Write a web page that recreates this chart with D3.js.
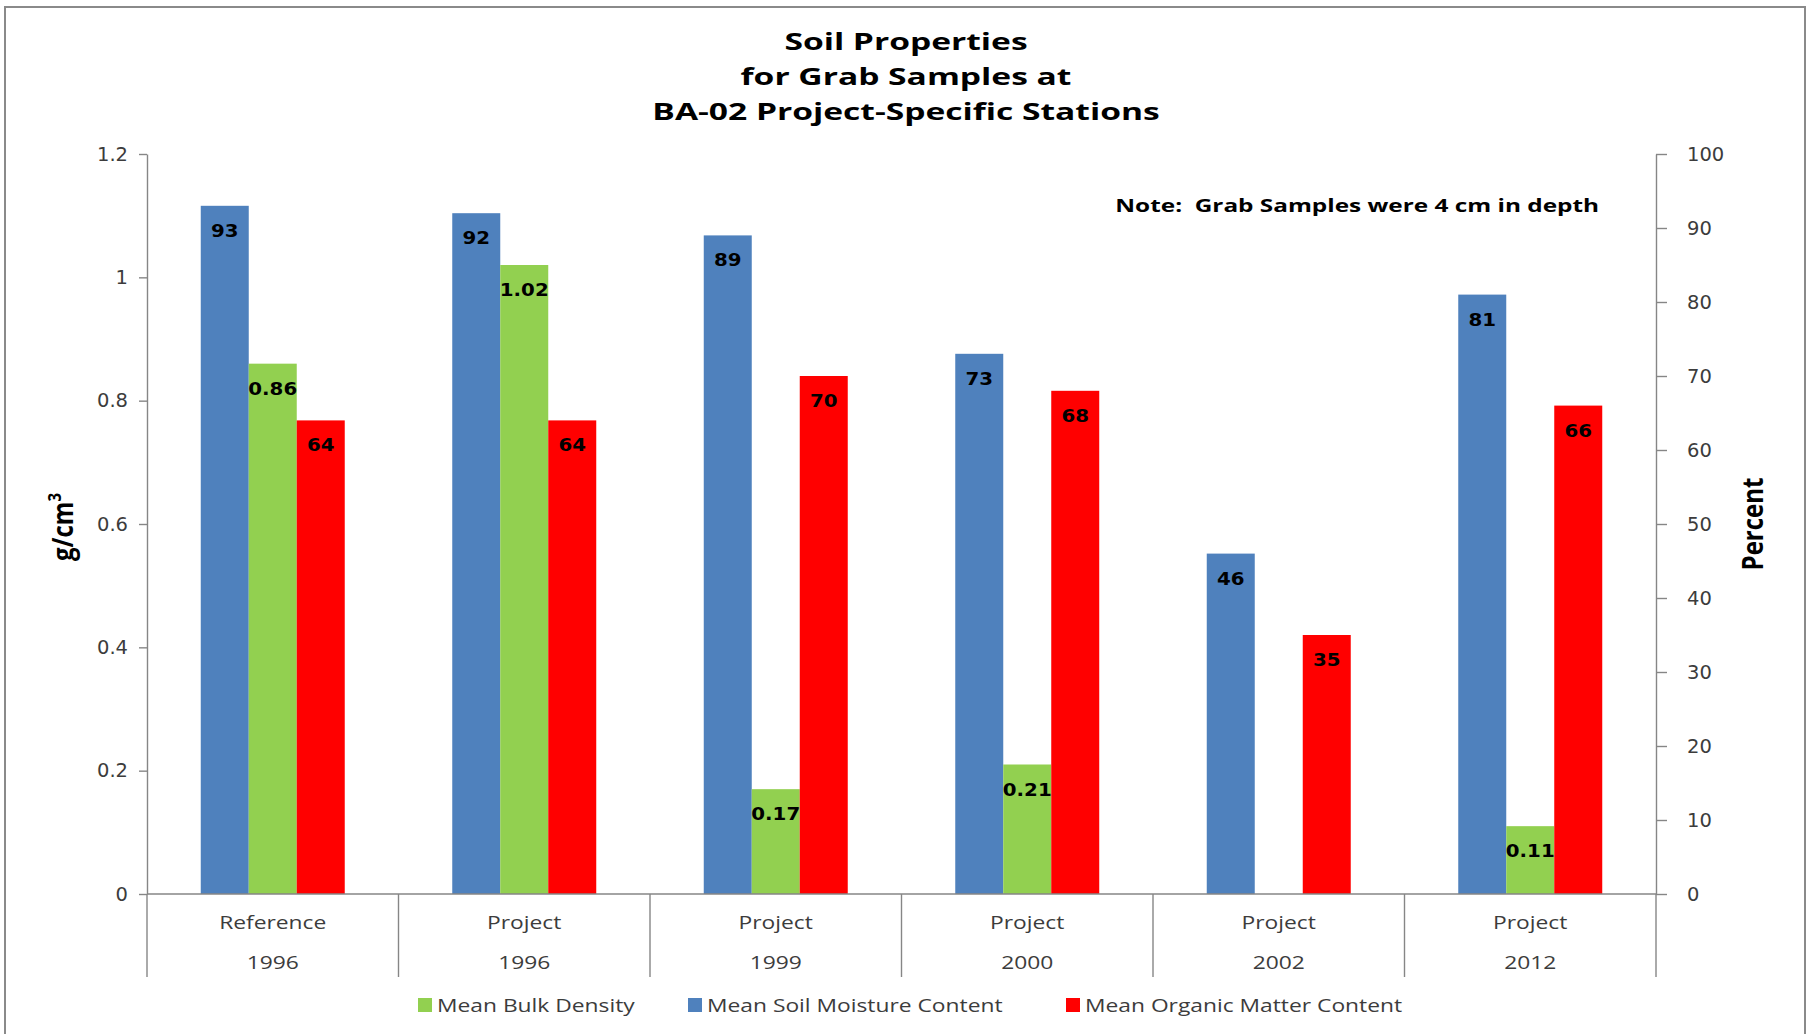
<!DOCTYPE html>
<html>
<head>
<meta charset="utf-8">
<script src="https://cdn.jsdelivr.net/npm/d3@7"></script>
<style>
  html, body { margin: 0; padding: 0; background: #ffffff; }
  svg { display: block; }
</style>
</head>
<body>
<svg id="chart" width="1813" height="1034"></svg>
<script>
// ---- data ----
const categories = ["Reference", "Project", "Project", "Project", "Project", "Project"];
const years = ["1996", "1996", "1999", "2000", "2002", "2012"];
const moisture = [93, 92, 89, 73, 46, 81];                 // percent (right axis)
const bulkDensity = [0.86, 1.02, 0.17, 0.21, null, 0.11];   // g/cm3 (left axis)
const organic = [64, 64, 70, 68, 35, 66];                  // percent (right axis)
const leftTicks = [0, 0.2, 0.4, 0.6, 0.8, 1, 1.2];
const rightTicks = [0, 10, 20, 30, 40, 50, 60, 70, 80, 90, 100];
const titleLines = ["Soil Properties", "for Grab Samples at", "BA-02 Project-Specific Stations"];
const noteText = "Note:  Grab Samples were 4 cm in depth";
const legendLabels = ["Mean Bulk Density", "Mean Soil Moisture Content", "Mean Organic Matter Content"];

// ---- appearance ----
const colors = { moisture: "#4F81BD", bulk: "#92D050", organic: "#FF0000" };
const axisColor = "#868686";
const textColor = "#3c3c3c";
const plot = { left: 147, right: 1656, top: 154, bottom: 894 };

const svg = d3.select("#chart");

// text drawn with a horizontal stretch
function stext(parent, x, y, str, sx, style, rotate) {
  const t = parent.append("text")
    .attr("transform", `translate(${x},${y}) scale(${sx},1)` + (rotate ? ` rotate(${rotate})` : ""))
    .text(str);
  Object.entries(style).forEach(([k, v]) => t.style(k, v));
  return t;
}

// outer frame
svg.append("rect")
  .attr("x", 5).attr("y", 7).attr("width", 1800).attr("height", 1040)
  .attr("fill", "#ffffff").attr("stroke", "#8a8a8a").attr("stroke-width", 2);

// ---- scales ----
const yLeft = d3.scaleLinear().domain([0, 1.2]).range([plot.bottom, plot.top]);
const yRight = d3.scaleLinear().domain([0, 100]).range([plot.bottom, plot.top]);
const x0 = d3.scaleBand().domain(d3.range(categories.length)).range([plot.left, plot.right]).padding(0);
const seriesKeys = ["moisture", "bulk", "organic"];
const x1 = d3.scaleBand().domain(seriesKeys).range([0, x0.bandwidth()]).paddingInner(0).paddingOuter(1.12);

const series = [
  { key: "moisture", values: moisture, scale: yRight, fmt: d3.format("d") },
  { key: "bulk", values: bulkDensity, scale: yLeft, fmt: d3.format(".2f") },
  { key: "organic", values: organic, scale: yRight, fmt: d3.format("d") }
];

// ---- title ----
const titleStyle = { "font-family": "'Open Sans'", "font-weight": "700", "font-size": "23px", "fill": "#000", "text-anchor": "middle" };
const titleBaselines = [50, 85, 120];
titleLines.forEach((line, i) => stext(svg, 906, titleBaselines[i], line, 1.46, titleStyle));

// note
stext(svg, 1599, 212, noteText, 1.31,
  { "font-family": "'Open Sans'", "font-weight": "700", "font-size": "18.6px", "fill": "#000", "text-anchor": "end", "white-space": "pre" });

// ---- bars ----
const groups = svg.append("g").selectAll("g")
  .data(categories.map((c, i) => i))
  .join("g")
  .attr("transform", i => `translate(${x0(i)},0)`);

const barData = i => series
  .filter(s => s.values[i] != null)
  .map(s => ({ key: s.key, v: s.values[i], scale: s.scale, fmt: s.fmt }));

groups.selectAll("rect")
  .data(barData)
  .join("rect")
  .attr("x", d => x1(d.key))
  .attr("width", x1.bandwidth())
  .attr("y", d => d.scale(d.v))
  .attr("height", d => plot.bottom - d.scale(d.v))
  .attr("fill", d => colors[d.key]);

// value labels inside top of each bar
groups.each(function (i) {
  const g = d3.select(this);
  barData(i).forEach(d => {
    stext(g, x1(d.key) + x1.bandwidth() / 2, d.scale(d.v) + 31, d.fmt(d.v), 1.1,
      { "font-family": "'DejaVu Sans'", "font-weight": "700", "font-size": "18px", "fill": "#000", "text-anchor": "middle" });
  });
});

// ---- axes ----
const leftAxis = svg.append("g")
  .attr("transform", `translate(${plot.left},0)`)
  .call(d3.axisLeft(yLeft).tickValues(leftTicks).tickFormat(d => String(d)).tickSize(8).tickSizeOuter(0).tickPadding(11));

const rightAxis = svg.append("g")
  .attr("transform", `translate(${plot.right},0)`)
  .call(d3.axisRight(yRight).tickValues(rightTicks).tickFormat(d => String(d)).tickSize(11).tickSizeOuter(0).tickPadding(20));

[leftAxis, rightAxis].forEach(ax => {
  ax.select(".domain").attr("stroke", axisColor).attr("stroke-width", 1.4);
  ax.selectAll(".tick line").attr("stroke", axisColor).attr("stroke-width", 1.4);
  ax.selectAll(".tick text")
    .attr("fill", textColor)
    .style("font-family", "'DejaVu Sans'")
    .style("font-size", "19.5px");
});

// category axis: baseline, dividers, two-line labels
const catAxis = svg.append("g");
catAxis.append("line")
  .attr("x1", plot.left).attr("x2", plot.right)
  .attr("y1", plot.bottom).attr("y2", plot.bottom)
  .attr("stroke", axisColor).attr("stroke-width", 1.4);

const boundaries = d3.range(categories.length + 1).map(i => plot.left + i * x0.step());
catAxis.selectAll("line.div")
  .data(boundaries)
  .join("line")
  .attr("class", "div")
  .attr("x1", d => d).attr("x2", d => d)
  .attr("y1", plot.bottom).attr("y2", 977)
  .attr("stroke", axisColor).attr("stroke-width", 1.4);

const catStyle = { "font-family": "'Open Sans'", "font-size": "19px", "fill": textColor, "text-anchor": "middle" };
categories.forEach((c, i) => {
  const cx = x0(i) + x0.bandwidth() / 2;
  stext(catAxis, cx, 929, c, 1.2, catStyle);
  stext(catAxis, cx, 969, years[i], 1.2, catStyle);
});

// ---- axis titles ----
const axisTitleStyle = { "font-family": "'Open Sans'", "font-weight": "700", "font-size": "24px", "fill": "#000", "text-anchor": "middle" };
const gLabel = stext(svg, 73, 527, "", 1.2, axisTitleStyle, -90);
gLabel.append("tspan").text("g/cm");
gLabel.append("tspan").attr("baseline-shift", "super").style("font-size", "15px").text("3");
stext(svg, 1763, 524, "Percent", 1.2, axisTitleStyle, -90);

// ---- legend ----
const legendOrder = ["bulk", "moisture", "organic"];
const legendStarts = [418, 688, 1066];
const legend = svg.append("g");
legendLabels.forEach((label, i) => {
  const lx = legendStarts[i];
  legend.append("rect")
    .attr("x", lx).attr("y", 998).attr("width", 14).attr("height", 14)
    .attr("fill", colors[legendOrder[i]]);
  stext(legend, lx + 19, 1012, label, 1.22,
    { "font-family": "'Open Sans'", "font-size": "18.7px", "fill": textColor, "text-anchor": "start" });
});
</script>
</body>
</html>
